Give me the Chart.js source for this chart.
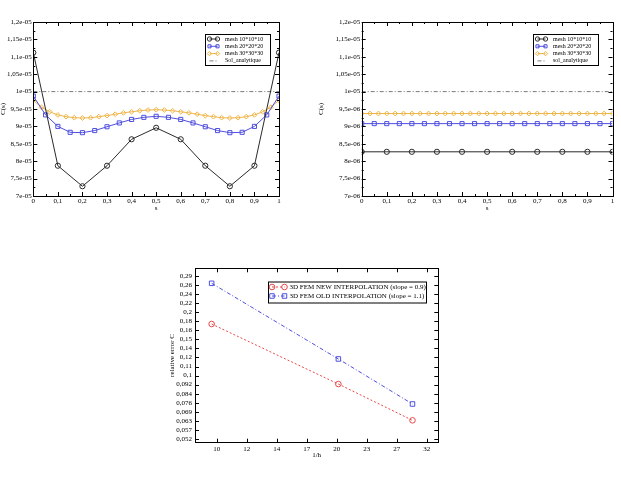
<!DOCTYPE html>
<html>
<head>
<meta charset="utf-8">
<title>C(s) and relative error</title>
<script src="https://cdn.jsdelivr.net/npm/chart.js@4.4.1/dist/chart.umd.min.js"></script>
<style>
  html, body { margin: 0; padding: 0; background: #fff; }
  body { width: 621px; height: 477px; position: relative; overflow: hidden; }
  .panel { position: absolute; }
</style>
</head>
<body>
<div class="panel" style="left:0;top:0"><canvas id="chartLeft" width="310" height="240"></canvas></div>
<div class="panel" style="left:310px;top:0"><canvas id="chartRight" width="311" height="240"></canvas></div>
<div class="panel" style="left:160px;top:260px"><canvas id="chartError" width="300" height="217"></canvas></div>
<script>
// ---- data: C(s) along s, left panel ----
const sMesh10 = [0, 0.1, 0.2, 0.3, 0.4, 0.5, 0.6, 0.7, 0.8, 0.9, 1];
const sMesh20 = [0, 0.05, 0.1, 0.15, 0.2, 0.25, 0.3, 0.35, 0.4, 0.45, 0.5,
                 0.55, 0.6, 0.65, 0.7, 0.75, 0.8, 0.85, 0.9, 0.95, 1];
const sMesh30 = [0, 0.0333, 0.0667, 0.1, 0.1333, 0.1667, 0.2, 0.2333, 0.2667, 0.3, 0.3333,
                 0.3667, 0.4, 0.4333, 0.4667, 0.5, 0.5333, 0.5667, 0.6, 0.6333, 0.6667,
                 0.7, 0.7333, 0.7667, 0.8, 0.8333, 0.8667, 0.9, 0.9333, 0.9667, 1];
const sSol = [0, 1];

const leftMesh10 = [11.12e-6, 7.87e-6, 7.28e-6, 7.87e-6, 8.63e-6, 8.96e-6,
                    8.63e-6, 7.87e-6, 7.28e-6, 7.87e-6, 11.12e-6];
const leftMesh20 = [9.87e-6, 9.33e-6, 9.0e-6, 8.83e-6, 8.82e-6, 8.88e-6, 8.99e-6,
                    9.10e-6, 9.20e-6, 9.26e-6, 9.29e-6, 9.26e-6, 9.20e-6, 9.10e-6,
                    8.99e-6, 8.88e-6, 8.82e-6, 8.83e-6, 9.0e-6, 9.33e-6, 9.87e-6];
const leftMesh30 = [9.75e-6, 9.55e-6, 9.42e-6, 9.33e-6, 9.28e-6, 9.25e-6, 9.24e-6, 9.25e-6,
                    9.28e-6, 9.31e-6, 9.35e-6, 9.39e-6, 9.42e-6, 9.45e-6, 9.47e-6, 9.48e-6,
                    9.47e-6, 9.45e-6, 9.42e-6, 9.39e-6, 9.35e-6, 9.31e-6, 9.28e-6, 9.25e-6,
                    9.24e-6, 9.25e-6, 9.28e-6, 9.33e-6, 9.42e-6, 9.55e-6, 9.75e-6];
const leftSol = [1e-5, 1e-5];

// ---- data: C(s) along s, right panel ----
const rightMesh10 = [8.27e-6, 8.27e-6, 8.27e-6, 8.27e-6, 8.27e-6, 8.27e-6,
                     8.27e-6, 8.27e-6, 8.27e-6, 8.27e-6, 8.27e-6];
const rightMesh20 = [9.08e-6, 9.08e-6, 9.08e-6, 9.08e-6, 9.08e-6, 9.08e-6, 9.08e-6,
                     9.08e-6, 9.08e-6, 9.08e-6, 9.08e-6, 9.08e-6, 9.08e-6, 9.08e-6,
                     9.08e-6, 9.08e-6, 9.08e-6, 9.08e-6, 9.08e-6, 9.08e-6, 9.08e-6];
const rightMesh30 = [9.37e-6, 9.37e-6, 9.37e-6, 9.37e-6, 9.37e-6, 9.37e-6, 9.37e-6, 9.37e-6,
                     9.37e-6, 9.37e-6, 9.37e-6, 9.37e-6, 9.37e-6, 9.37e-6, 9.37e-6, 9.37e-6,
                     9.37e-6, 9.37e-6, 9.37e-6, 9.37e-6, 9.37e-6, 9.37e-6, 9.37e-6, 9.37e-6,
                     9.37e-6, 9.37e-6, 9.37e-6, 9.37e-6, 9.37e-6, 9.37e-6, 9.37e-6];
const rightSol = [1e-5, 1e-5];

// ---- data: relative error vs 1/h ----
const invH = [10, 20, 30];
const errNew = [0.1748, 0.0928, 0.0633];
const errOld = [0.2684, 0.1209, 0.0752];

// ---- tick values and labels ----
const sTicks = [0, 0.1, 0.2, 0.3, 0.4, 0.5, 0.6, 0.7, 0.8, 0.9, 1];
const sTickLabels = ['0', '0,1', '0,2', '0,3', '0,4', '0,5', '0,6', '0,7', '0,8', '0,9', '1'];
const cTicks = [7e-6, 7.5e-6, 8e-6, 8.5e-6, 9e-6, 9.5e-6, 1e-5, 1.05e-5, 1.1e-5, 1.15e-5, 1.2e-5];
const cTickLabelsLeft = ['7e-05', '7,5e-05', '8e-05', '8,5e-05', '9e-05', '9,5e-05',
                         '1e-05', '1,05e-05', '1,1e-05', '1,15e-05', '1,2e-05'];
const cTickLabelsRight = ['7e-06', '7,5e-06', '8e-06', '8,5e-06', '9e-06', '9,5e-06',
                          '1e-05', '1,05e-05', '1,1e-05', '1,15e-05', '1,2e-05'];
const hTicks = [10.28, 12.11, 14.28, 16.82, 19.82, 23.36, 27.53, 32.44];
const hTickLabels = ['10', '12', '14', '17', '20', '23', '27', '32'];
const errTicks = [0.052, 0.05721, 0.06294, 0.06925, 0.07619, 0.08382, 0.09222, 0.10146,
                  0.11162, 0.12281, 0.13511, 0.14865, 0.16354, 0.17993, 0.19796, 0.21779,
                  0.23961, 0.26362, 0.29003];
const errTickLabels = ['0,052', '0,057', '0,063', '0,069', '0,076', '0,084', '0,092', '0,1',
                       '0,11', '0,12', '0,14', '0,15', '0,16', '0,18', '0,2', '0,22',
                       '0,24', '0,26', '0,29'];

const COLORS = {
    black: '#2a2a2a',
    blue: '#4f4fe0',
    orange: '#f0b548',
    gray: '#7a7a7a',
    red: '#e64848'
};

Chart.defaults.font.family = '"Liberation Serif", "Times New Roman", serif';
Chart.defaults.font.size = 7;
Chart.defaults.color = '#000';

const pairs = (xs, ys) => xs.map((x, i) => ({ x: x, y: ys[i] }));

// xmgrace-like frame: box round the plot with inward ticks on all four sides
const frameTicks = {
    id: 'frameTicks',
    afterDatasetsDraw(chart, args, opts) {
        const { ctx, chartArea: a } = chart;
        const xs = chart.scales.x;
        const ys = chart.scales.y;
        ctx.save();
        ctx.strokeStyle = '#000';
        ctx.lineWidth = 1;
        ctx.strokeRect(Math.round(a.left) + 0.5, Math.round(a.top) + 0.5,
                       Math.round(a.width), Math.round(a.height));
        ctx.beginPath();
        const xMark = (v, len) => {
            const x = Math.round(xs.getPixelForValue(v)) + 0.5;
            ctx.moveTo(x, a.bottom); ctx.lineTo(x, a.bottom - len);
            ctx.moveTo(x, a.top); ctx.lineTo(x, a.top + len);
        };
        const yMark = (v, len) => {
            const y = Math.round(ys.getPixelForValue(v)) + 0.5;
            ctx.moveTo(a.left, y); ctx.lineTo(a.left + len, y);
            ctx.moveTo(a.right, y); ctx.lineTo(a.right - len, y);
        };
        xs.ticks.forEach((t, i) => {
            xMark(t.value, opts.major);
            if (opts.minor && i < xs.ticks.length - 1) {
                xMark((t.value + xs.ticks[i + 1].value) / 2, opts.minor);
            }
        });
        ys.ticks.forEach((t, i) => {
            yMark(t.value, opts.major);
            if (opts.minor && i < ys.ticks.length - 1) {
                yMark((t.value + ys.ticks[i + 1].value) / 2, opts.minor);
            }
        });
        ctx.stroke();
        ctx.restore();
    }
};

// legend box drawn inside the plot, a symbol at each end of the sample line
const insetLegend = {
    id: 'insetLegend',
    afterDraw(chart, args, opts) {
        const ctx = chart.ctx;
        ctx.save();
        ctx.fillStyle = '#fff';
        ctx.fillRect(opts.x, opts.y, opts.width, opts.height);
        ctx.strokeStyle = '#000';
        ctx.lineWidth = 1;
        ctx.strokeRect(opts.x + 0.5, opts.y + 0.5, opts.width, opts.height);
        ctx.font = opts.fontSize + 'px ' + Chart.defaults.font.family;
        ctx.textBaseline = 'middle';
        chart.data.datasets.forEach((ds, i) => {
            const y = opts.y + opts.firstRow + i * opts.rowHeight;
            const x0 = opts.x + opts.sampleLeft;
            const x1 = x0 + opts.sampleLength;
            ctx.strokeStyle = ds.borderColor;
            ctx.lineWidth = ds.borderWidth;
            ctx.setLineDash(ds.borderDash || []);
            ctx.beginPath();
            ctx.moveTo(x0, y);
            ctx.lineTo(x1, y);
            ctx.stroke();
            ctx.setLineDash([]);
            if (ds.pointRadius > 0) {
                ctx.fillStyle = 'rgba(0,0,0,0)';
                ctx.strokeStyle = ds.pointBorderColor;
                [x0, x1].forEach(px => Chart.helpers.drawPoint(ctx, {
                    pointStyle: ds.pointStyle, radius: opts.pointRadius || ds.pointRadius,
                    rotation: 0, borderWidth: 1
                }, px, y));
            }
            ctx.fillStyle = '#000';
            ctx.fillText(ds.label, opts.x + opts.textLeft, y);
        });
        ctx.restore();
    }
};

function lineSet(label, data, color, style, radius, dash) {
    return {
        label: label,
        data: data,
        borderColor: color,
        borderWidth: 1,
        borderDash: dash || [],
        pointStyle: style || 'circle',
        pointRadius: radius || 0,
        pointBorderColor: color,
        pointBackgroundColor: 'rgba(0,0,0,0)',
        pointBorderWidth: 1,
        tension: 0,
        fill: false
    };
}

function axis(opts) {
    return {
        type: opts.type || 'linear',
        min: opts.min,
        max: opts.max,
        grid: { display: false, drawTicks: false },
        border: { display: false },
        afterBuildTicks: scale => { scale.ticks = opts.ticks.map(v => ({ value: v })); },
        afterFit: scale => {
            if (opts.horizontal) scale.height = opts.size; else scale.width = opts.size;
        },
        ticks: {
            callback: (value, index) => opts.labels[index],
            padding: opts.padding,
            autoSkip: false,
            maxRotation: 0,
            font: { size: 7 }
        },
        title: {
            display: true,
            text: opts.title,
            padding: opts.horizontal ? { top: 0, bottom: opts.titleGap } : { top: opts.titleGap, bottom: 0 },
            font: { size: 7, lineHeight: 1 }
        }
    };
}

function curveChart(canvasId, series, yLabels, solLabel, layout, legendBox) {
    return new Chart(document.getElementById(canvasId), {
        type: 'line',
        data: {
            datasets: [
                lineSet('mesh 10*10*10', pairs(sMesh10, series[0]), COLORS.black, 'circle', 2.6),
                lineSet('mesh 20*20*20', pairs(sMesh20, series[1]), COLORS.blue, 'rect', 2.9),
                lineSet('mesh 30*30*30', pairs(sMesh30, series[2]), COLORS.orange, 'rectRot', 2.4),
                lineSet(solLabel, pairs(sSol, series[3]), COLORS.gray, 'circle', 0, [4, 2, 1, 2])
            ]
        },
        options: {
            responsive: false,
            animation: false,
            layout: { padding: layout },
            plugins: {
                legend: { display: false },
                tooltip: { enabled: false },
                frameTicks: { major: 4, minor: 2 },
                insetLegend: legendBox
            },
            scales: {
                x: axis({ min: 0, max: 1, ticks: sTicks, labels: sTickLabels, horizontal: true,
                          size: 44, padding: 1, title: 's', titleGap: 28.5 }),
                y: axis({ min: 7e-6, max: 1.2e-5, ticks: cTicks, labels: yLabels,
                          size: layout.yWidth, padding: 1.5, title: 'C(s)', titleGap: layout.yTitleGap })
            }
        },
        plugins: [frameTicks, insetLegend]
    });
}

const topLegend = { y: 34, width: 65, height: 31, firstRow: 5, rowHeight: 7.3,
                    sampleLeft: 4.5, sampleLength: 8, textLeft: 20, fontSize: 6, pointRadius: 2.2 };

function initCharts() {
    curveChart('chartLeft', [leftMesh10, leftMesh20, leftMesh30, leftSol], cTickLabelsLeft,
               'Sol_analytique',
               { left: 0, top: 22, right: 31, bottom: 0, yWidth: 33.3, yTitleGap: 0 },
               Object.assign({ x: 205 }, topLegend));

    curveChart('chartRight', [rightMesh10, rightMesh20, rightMesh30, rightSol], cTickLabelsRight,
               'sol_analytique',
               { left: 0, top: 22, right: 8.5, bottom: 0, yWidth: 51.7, yTitleGap: 8 },
               Object.assign({ x: 223 }, topLegend));

    new Chart(document.getElementById('chartError'), {
        type: 'line',
        data: {
            datasets: [
                lineSet('3D FEM NEW INTERPOLATION (slope = 0.9)', pairs(invH, errNew),
                        COLORS.red, 'circle', 2.8, [2, 2]),
                lineSet('3D FEM OLD INTERPOLATION (slope = 1.1)', pairs(invH, errOld),
                        COLORS.blue, 'rect', 3.2, [4, 2, 1, 2])
            ]
        },
        options: {
            responsive: false,
            animation: false,
            layout: { padding: { left: 0, top: 8.3, right: 21.7, bottom: 0 } },
            plugins: {
                legend: { display: false },
                tooltip: { enabled: false },
                frameTicks: { major: 4, minor: 0 },
                insetLegend: { x: 108, y: 21.5, width: 158, height: 21, firstRow: 5.5, rowHeight: 9,
                               sampleLeft: 4, sampleLength: 12.5, textLeft: 21.5, fontSize: 7 }
            },
            scales: {
                x: axis({ type: 'logarithmic', min: 9.13, max: 34.55, ticks: hTicks, labels: hTickLabels,
                          horizontal: true, size: 34.3, padding: 2, title: '1/h', titleGap: 18.5 }),
                y: axis({ type: 'logarithmic', min: 0.0500, max: 0.3144, ticks: errTicks,
                          labels: errTickLabels, size: 35, padding: 3,
                          title: 'relative error C', titleGap: 8.5 })
            }
        },
        plugins: [frameTicks, insetLegend]
    });
}

document.addEventListener('DOMContentLoaded', initCharts);
</script>
</body>
</html>
